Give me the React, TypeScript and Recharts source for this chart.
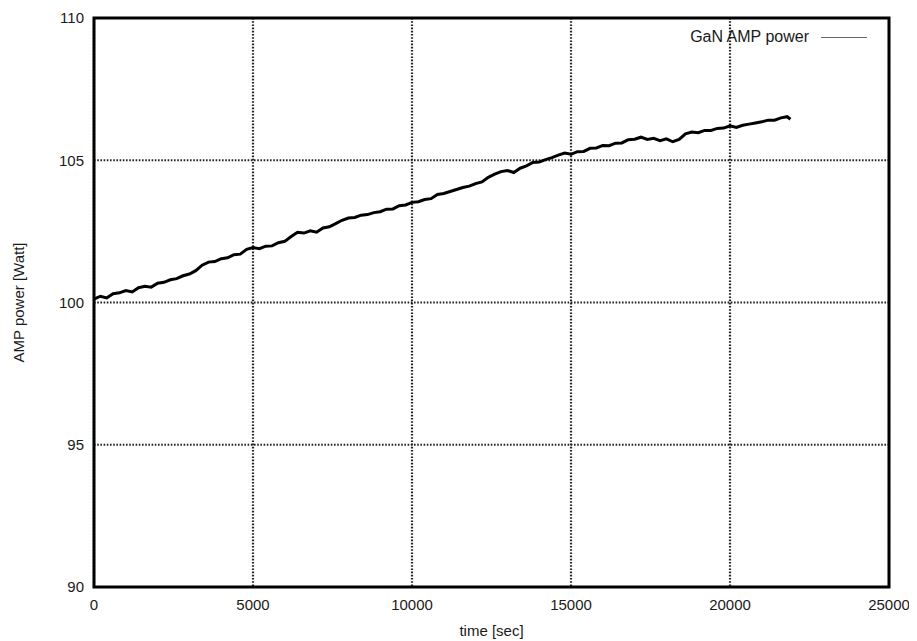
import React from "react";
import {
  CartesianGrid,
  Line,
  LineChart,
  ReferenceArea,
  XAxis,
  YAxis,
} from "recharts";

// time [sec]
const times = [
  0, 200, 400, 600, 800, 1000, 1200, 1400, 1600, 1800, 2000, 2200, 2400, 2600,
  2800, 3000, 3200, 3400, 3600, 3800, 4000, 4200, 4400, 4600, 4800, 5000, 5200,
  5400, 5600, 5800, 6000, 6200, 6400, 6600, 6800, 7000, 7200, 7400, 7600, 7800,
  8000, 8200, 8400, 8600, 8800, 9000, 9200, 9400, 9600, 9800, 10000, 10200,
  10400, 10600, 10800, 11000, 11200, 11400, 11600, 11800, 12000, 12200, 12400,
  12600, 12800, 13000, 13200, 13400, 13600, 13800, 14000, 14200, 14400, 14600,
  14800, 15000, 15200, 15400, 15600, 15800, 16000, 16200, 16400, 16600, 16800,
  17000, 17200, 17400, 17600, 17800, 18000, 18200, 18400, 18600, 18800, 19000,
  19200, 19400, 19600, 19800, 20000, 20200, 20400, 20600, 20800, 21000, 21200,
  21400, 21600, 21800, 21900,
];

// AMP power [Watt]
const ampPower = [
  100.12, 100.22, 100.16, 100.31, 100.34, 100.42, 100.37, 100.52, 100.57,
  100.54, 100.68, 100.71, 100.8, 100.84, 100.94, 101.0, 101.12, 101.31, 101.42,
  101.44, 101.54, 101.57, 101.68, 101.7, 101.87, 101.93, 101.89, 101.98, 101.99,
  102.1, 102.15, 102.32, 102.47, 102.44, 102.52, 102.47, 102.62, 102.66, 102.77,
  102.89, 102.97, 102.99, 103.07, 103.09, 103.16, 103.19, 103.28, 103.29,
  103.4, 103.43, 103.52, 103.54, 103.62, 103.65, 103.8, 103.83, 103.9, 103.97,
  104.04, 104.09, 104.18, 104.24, 104.4, 104.51, 104.6, 104.64, 104.57, 104.72,
  104.8, 104.92, 104.94, 105.02, 105.09, 105.18, 105.25, 105.21, 105.3, 105.31,
  105.42, 105.43, 105.52, 105.51, 105.6, 105.61, 105.72, 105.74, 105.81,
  105.73, 105.77, 105.69, 105.75, 105.65, 105.73, 105.93, 105.99, 105.97,
  106.05, 106.05, 106.12, 106.13, 106.21, 106.15, 106.23, 106.27, 106.31,
  106.35, 106.41, 106.41, 106.49, 106.53, 106.44,
];

const xTicks = [0, 5000, 10000, 15000, 20000, 25000];
const yTicks = [90, 95, 100, 105, 110];

const data = times.map((t, i) => ({ time: t, power: ampPower[i] }));

const FONT = "'Liberation Sans', Arial, Helvetica, sans-serif";
const TEXT = "#1a1a1a";
const tickStyle = { fill: TEXT, fontSize: 15, fontFamily: FONT };

function YLabel(props: any) {
  const { viewBox } = props;
  const x = viewBox.x + 10;
  const y = viewBox.y + viewBox.height / 2;
  return (
    <text
      x={x}
      y={y}
      transform={`rotate(-90, ${x}, ${y})`}
      textAnchor="middle"
      dominantBaseline="central"
      fill={TEXT}
      fontSize={15}
      fontFamily={FONT}
    >
      AMP power [Watt]
    </text>
  );
}

function XLabel(props: any) {
  const { viewBox } = props;
  return (
    <text
      x={viewBox.x + viewBox.width / 2}
      y={viewBox.y + viewBox.height - 5}
      textAnchor="middle"
      fill={TEXT}
      fontSize={15}
      fontFamily={FONT}
    >
      time [sec]
    </text>
  );
}

export default function App() {
  return (
    <div style={{ position: "relative", width: 909, height: 633 }}>
      <LineChart
        width={909}
        height={633}
        data={data}
        margin={{ top: 10, right: 28, left: 0, bottom: 0 }}
        style={{ background: "#fff", overflow: "visible" }}
      >
        <CartesianGrid stroke="#222" strokeWidth={2.2} strokeDasharray="1.6 1.6" />
        <XAxis
          dataKey="time"
          type="number"
          domain={[0, 25000]}
          ticks={xTicks}
          axisLine={false}
          tickLine={false}
          tickSize={0}
          tickMargin={12}
          height={54}
          tick={tickStyle}
          label={<XLabel />}
        />
        <YAxis
          type="number"
          domain={[90, 110]}
          ticks={yTicks}
          axisLine={false}
          tickLine={false}
          tickSize={0}
          tickMargin={10}
          width={86}
          tick={tickStyle}
          label={<YLabel />}
        />
        <ReferenceArea
          x1={0}
          x2={25000}
          y1={90}
          y2={110}
          fill="none"
          fillOpacity={0}
          stroke="#000"
          strokeWidth={3}
          ifOverflow="visible"
        />
        <Line
          type="linear"
          dataKey="power"
          stroke="#000"
          strokeWidth={3}
          dot={false}
          isAnimationActive={false}
          name="GaN AMP power"
        />
      </LineChart>
      <div
        style={{
          position: "absolute",
          top: 20,
          right: 50,
          display: "flex",
          alignItems: "center",
          fontFamily: FONT,
          fontSize: 16,
          color: TEXT,
        }}
      >
        <span>GaN AMP power</span>
        <span
          style={{
            display: "inline-block",
            width: 46,
            height: 0,
            borderTop: "1.5px solid #666",
            marginLeft: 12,
          }}
        />
      </div>
    </div>
  );
}
